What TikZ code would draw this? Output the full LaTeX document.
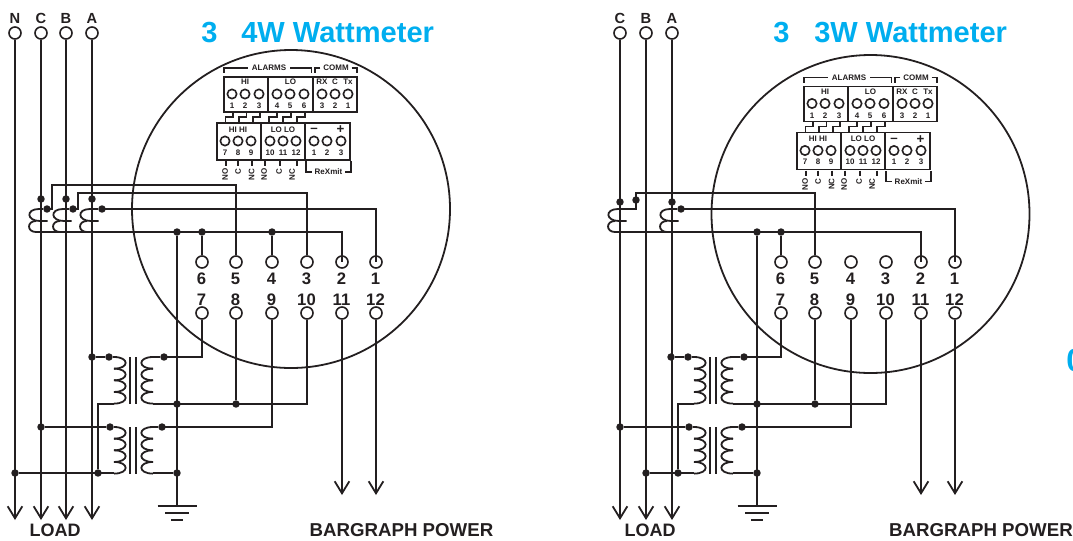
\documentclass[tikz,border=0pt]{standalone}
\usepackage{fontspec}
\setmainfont{Liberation Sans}
\usetikzlibrary{arrows.meta}
\definecolor{ink}{HTML}{231F20}
\definecolor{wattblue}{HTML}{00AEEF}
\newcommand{\fsz}[1]{\fontsize{#1}{#1}\selectfont\bfseries}
\tikzset{
  wire/.style={draw=ink,line width=1.35pt,line join=miter},
  fine/.style={draw=ink,line width=1.1pt},
  loadwire/.style={wire,-{Straight Barb[length=9pt,width=11pt,line width=1.35pt]}},
  term/.style={circle,draw=ink,line width=1.2pt,minimum size=9pt,inner sep=0pt},
  dot/.style={circle,fill=ink,minimum size=5.6pt,inner sep=0pt},
  pin/.style={circle,draw=ink,line width=1.2pt,minimum size=7pt,inner sep=0pt},
  tblock/.style={draw=ink,line width=1.25pt,inner sep=0pt},
  small/.style={text=ink,inner sep=0pt,font=\fsz{6}},
  termlabel/.style={text=ink,inner sep=0pt,font=\fsz{12.5}},
  phase/.style={text=ink,inner sep=0pt,font=\fsz{11}},
  foot/.style={text=ink,inner sep=0pt,font=\fsz{14}},
  title/.style={text=wattblue,inner sep=0pt,anchor=west,font=\fsz{21.8}},
}
% one winding of four turns: x of the open side, direction of the bulge, top y
\newcommand{\winding}[3]{%
  \foreach \i in {0,1,2,3}
    \draw[wire] ({#1},{#3+\i*11.65}) .. controls ({#1+#2*15.5},{#3+\i*11.65}) and ({#1+#2*15.5},{#3+(\i+1)*11.65}) .. ({#1},{#3+(\i+1)*11.65});
  \foreach \i in {1,2,3}
    \draw[fine] ({#1},{#3+\i*11.65}) -- ({#1+#2*3},{#3+\i*11.65});
}
% voltage transformer: horizontal shift, top y
\newcommand{\transformer}[2]{%
  \winding{114+#1}{1}{#2}
  \winding{153+#1}{-1}{#2}
  \draw[wire] ({130+#1},{#2}) -- ({130+#1},{#2+46.6});
  \draw[wire] ({136+#1},{#2}) -- ({136+#1},{#2+46.6});
}
% current transformer: leftmost x
\newcommand{\ctcoil}[1]{%
  \draw[wire] ({#1+10},209) .. controls ({#1-3.5},209) and ({#1-2.5},221) .. ({#1+11},221) -- ({#1+18.5},221);
  \draw[wire] ({#1+7},221) .. controls ({#1-2.3},221) and ({#1-2.3},232) .. ({#1+7},232);
}
\newcommand{\earth}[1]{%
  \draw[wire] ({#1-19.5},506) -- ({#1+19.5},506);
  \draw[wire] ({#1-12},513) -- ({#1+12},513);
  \draw[wire] ({#1-6},520) -- ({#1+6},520);
}
% terminal rows: prefix, horizontal shift
\newcommand{\termrows}[2]{%
  \foreach \n/\lo/\x in {6/7/202,5/8/236,4/9/272,3/10/307,2/11/342,1/12/376}{
    \node[term] (#1\n) at ({\x+#2},262) {};
    \node[term] (#1\lo) at ({\x+#2},313) {};
    \node[termlabel] (#1l\n) at ({\x+#2-0.5},278.5) {\n};
    \node[termlabel] (#1l\lo) at ({\x+#2-0.5},299.5) {\lo};
  }
}
% the meter's connector blocks: prefix, shift x, shift y
\newcommand{\meterblocks}[3]{%
\begin{scope}[shift={(#2,#3)}]
  \node[tblock,minimum width=33pt,minimum height=26.25pt] (#1a) at (246,94.5) {};
  \node[tblock,minimum width=33.75pt,minimum height=26.25pt] (#1b) at (290.5,94.5) {};
  \node[tblock,minimum width=33pt,minimum height=26.25pt] (#1c) at (335,94.5) {};
  \node[tblock,minimum width=33pt,minimum height=27.75pt] (#1d) at (239,141.5) {};
  \node[tblock,minimum width=33pt,minimum height=27.75pt] (#1e) at (283,141.5) {};
  \node[tblock,minimum width=33.75pt,minimum height=27.75pt] (#1f) at (327.5,141.5) {};
  \foreach \x/\t in {232/1,245/2,259/3,277/4,290/5,304/6,322/3,335/2,348/1}{
    \node[pin] at (\x,94) {};
    \node[small] at (\x,106) {\t};
  }
  \foreach \x/\t in {225/7,238/8,251/9,270/10,283/11,296/12,314/1,327/2,341/3}{
    \node[pin] at (\x,141) {};
    \node[small] at (\x,152.5) {\t};
  }
  \node[small] (#1hi) at (245,82) {HI};
  \node[small] (#1lo) at (290.5,82) {LO};
  \node[small] at (322,82) {RX};
  \node[small] at (335,82) {C};
  \node[small] at (348,82) {Tx};
  \node[small] at (238,129.5) {HI HI};
  \node[small] at (283,129.5) {LO LO};
  \node[small,font=\fsz{10}] at (314,130.5) {–};
  \node[small,font=\fsz{10}] at (340.5,130) {+};
  \node[small,fill=white,inner xsep=3pt] (#1al) at (269,68) {ALARMS};
  \node[small,fill=white,inner xsep=2pt] (#1co) at (336,68) {COMM};
  \node[small,fill=white,inner xsep=2pt] (#1rx) at (328.5,172) {ReXmit};
  \draw[fine] (#1al.west) -- (224,68) -- (224,73);
  \draw[fine] (#1al.east) -- (311.5,68) -- (311.5,73);
  \draw[fine] (#1co.west) -- (315,68) -- (315,73);
  \draw[fine] (#1co.east) -- (357,68) -- (357,73);
  \draw[fine] (#1rx.west) -- (306,172) -- (306,161);
  \draw[fine] (#1rx.east) -- (351,172) -- (351,161);
  \foreach \a/\b in {225.5/233,239/246.5,253/260,269/277,283/291,297/305}
    \draw[fine] (\a,123) -- (\a,117) -- (\b,117) -- (\b,112);
  \foreach \x/\t in {225/NO,238/C,251.5/NC,264/NO,279/C,292/NC}
    \node[small,rotate=90,anchor=east] at (\x,168.5) {\t};
  \foreach \x in {226,238,252,265,280,297}
    \draw[fine] (\x,161) -- (\x,166);
\end{scope}}
\begin{document}
\begin{tikzpicture}[x=0.75pt,y=-0.75pt]
\useasboundingbox (0,0) rectangle (1073,540);
% ---------- left diagram ----------
\node[title] (Ltitle3) at (201,33) {3};
\node[title] (Ltitle) at (241,33) {4W Wattmeter};
\draw[wire] (291,209) circle [x radius=119.25pt,y radius=119.25pt];
\meterblocks{La}{0}{0}
\termrows{L}{0}
\foreach \n/\x in {N/15,C/41,B/66,A/92}{
  \node[term] (LT\n) at (\x,33) {};
  \node[phase] (LP\n) at (\x,18) {\n};
  \coordinate (LE\n) at (\x,520);
  \draw[loadwire] (LT\n) -- (LE\n);
}
\foreach \n/\x/\a/\b in {C/41/47/29,B/66/73/53,A/92/102/80}{
  \node[dot] (LD\n) at (\x,199) {};
  \node[dot] (LS\n) at (\a,209) {};
  \ctcoil{\b}
}
\draw[wire] (LSC) -- (38,209);
\draw[wire] (LSB) -- (62,209);
\draw[wire] (LSA) -- (89,209);
\draw[wire] (LSC.center) -- (52,209) -- (52,185) -| (L5);
\draw[wire] (LSB.center) -- (78,209) -- (78,193) -| (L3);
\draw[wire] (LSA.center) -| (L1.center);
\coordinate (Lcom) at (36,232);
\draw[wire] (Lcom) -| (L2.center);
\node[dot] (Lj1) at (177,232) {};
\node[dot] (Lj2) at (202,232) {};
\node[dot] (Lj3) at (272,232) {};
\draw[wire] (Lj2) -- (L6);
\draw[wire] (Lj3) -- (L4);
\coordinate (Lgnd) at (177,506);
\draw[wire] (Lj1) -- (Lgnd);
\earth{177}
\transformer{0}{357}
\transformer{0}{427}
\node[dot] (Lt1a) at (92,357) {};
\node[dot] (Lt1b) at (109,357) {};
\node[dot] (Lt1c) at (164,357) {};
\node[dot] (Lt2a) at (41,427) {};
\node[dot] (Lt2b) at (110,427) {};
\node[dot] (Lt2c) at (162,427) {};
\node[dot] (Ln1) at (15,473) {};
\node[dot] (Ln2) at (98,473) {};
\node[dot] (Ln3) at (177,473) {};
\node[dot] (Lm1) at (177,404) {};
\node[dot] (Lm2) at (236,404) {};
\draw[wire] (Lt1a) -- (Lt1b) -- (114,357);
\draw[wire] (Lt1c) -- (153,357);
\draw[wire] (Lt1c.center) -| (L7);
\draw[wire] (153,404) -| (L10);
\draw[wire] (L8) -- (Lm2);
\draw[wire] (114,404) -| (Ln2);
\draw[wire] (Lt2a) -- (Lt2b) -- (114,427);
\draw[wire] (Lt2c) -- (153,427);
\draw[wire] (Lt2c.center) -| (L9);
\draw[wire] (Ln1) -- (114,473);
\draw[wire] (153,473) -- (Ln3);
\coordinate (LE11) at (342,495);
\coordinate (LE12) at (376,495);
\draw[loadwire] (L11) -- (LE11);
\draw[loadwire] (L12) -- (LE12);
\node[foot,font=\fsz{13.5}] (Lload) at (55,530) {LOAD};
\node[foot] (Lbar) at (401.5,530) {BARGRAPH POWER};
% ---------- right diagram ----------
\node[title] (Rtitle3) at (773,33) {3};
\node[title] (Rtitle) at (814,33) {3W Wattmeter};
\draw[wire] (870.5,214) circle [x radius=119.25pt,y radius=119.25pt];
\meterblocks{Ra}{580}{9.5}
\termrows{R}{579}
\foreach \n/\x in {C/620,B/646,A/672}{
  \node[term] (RT\n) at (\x,33) {};
  \node[phase] (RP\n) at (\x,18) {\n};
  \coordinate (RE\n) at (\x,520);
  \draw[loadwire] (RT\n) -- (RE\n);
}
\node[dot] (RDC) at (620,202) {};
\node[dot] (RDA) at (672,202) {};
\node[dot] (RSC) at (636,200) {};
\node[dot] (RSA) at (681,209) {};
\ctcoil{608}
\ctcoil{660}
\draw[wire] (617,209) -- (636,209) -- (RSC.center);
\draw[wire] (RSC.center) -- (636,193) -| (R5);
\draw[wire] (RSA) -- (669,209);
\draw[wire] (RSA.center) -| (R1.center);
\coordinate (Rcom) at (615,232);
\draw[wire] (Rcom) -| (R2.center);
\node[dot] (Rj1) at (757,232) {};
\node[dot] (Rj2) at (781,232) {};
\draw[wire] (Rj2) -- (R6);
\coordinate (Rgnd) at (757,506);
\draw[wire] (Rj1) -- (Rgnd);
\earth{757}
\transformer{580}{357}
\transformer{580}{427}
\node[dot] (Rt1a) at (671,357) {};
\node[dot] (Rt1b) at (688,357) {};
\node[dot] (Rt1c) at (744,357) {};
\node[dot] (Rt2a) at (620,427) {};
\node[dot] (Rt2b) at (689,427) {};
\node[dot] (Rt2c) at (742,427) {};
\node[dot] (Rn1) at (646,473) {};
\node[dot] (Rn2) at (678,473) {};
\node[dot] (Rn3) at (757,473) {};
\node[dot] (Rm1) at (757,404) {};
\node[dot] (Rm2) at (815,404) {};
\draw[wire] (Rt1a) -- (Rt1b) -- (694,357);
\draw[wire] (Rt1c) -- (733,357);
\draw[wire] (Rt1c.center) -| (R7);
\draw[wire] (733,404) -| (R10);
\draw[wire] (R8) -- (Rm2);
\draw[wire] (694,404) -| (Rn2);
\draw[wire] (Rt2a) -- (Rt2b) -- (694,427);
\draw[wire] (Rt2c) -- (733,427);
\draw[wire] (Rt2c.center) -| (R9);
\draw[wire] (Rn1) -- (694,473);
\draw[wire] (733,473) -- (Rn3);
\coordinate (RE11) at (921,495);
\coordinate (RE12) at (955,495);
\draw[loadwire] (R11) -- (RE11);
\draw[loadwire] (R12) -- (RE12);
\node[foot,font=\fsz{13.5}] (Rload) at (650,530) {LOAD};
\node[foot] (Rbar) at (981,530) {BARGRAPH POWER};
% clipped character at the right edge
\begin{scope}
  \clip (0,0) rectangle (1073,540);
  \node[title,font=\fsz{24}] (Redge) at (1066,360) {0};
\end{scope}
\end{tikzpicture}
\end{document}
